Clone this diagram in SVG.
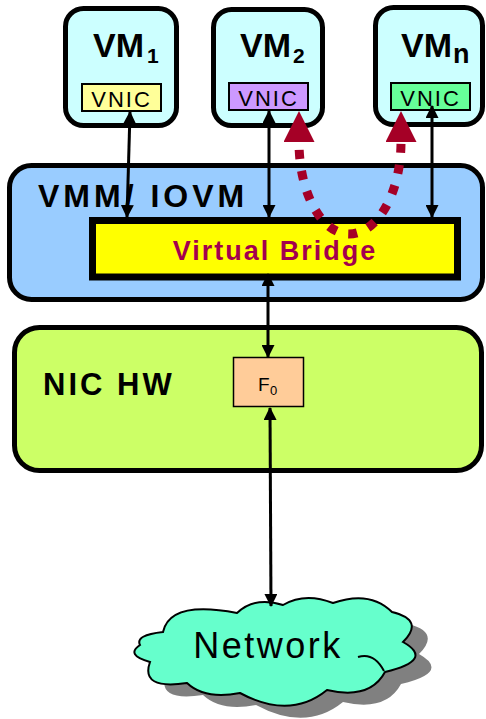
<svg xmlns="http://www.w3.org/2000/svg" width="486" height="719" viewBox="0 0 486 719">
<style>
.vm{fill:#CCFFFF;stroke:#000;stroke-width:5}
.vnic{stroke:#000;stroke-width:2}
.t{font-family:"Liberation Sans",Arial,sans-serif;fill:#000}
.b{font-weight:bold}
.ln{stroke:#000;stroke-width:3;fill:none;marker-start:url(#ah);marker-end:url(#ah)}
.red{stroke:#A50026;stroke-width:9;fill:none;stroke-dasharray:9 12;stroke-dashoffset:13;marker-start:url(#rh);marker-end:url(#rh)}
</style>
<defs>
<marker id="ah" markerUnits="userSpaceOnUse" markerWidth="13" markerHeight="13" refX="12" refY="6.5" orient="auto-start-reverse" viewBox="0 0 13 13">
<path d="M0,0 L13,6.5 L0,13 z" fill="#000"/>
</marker>
<marker id="rh" markerUnits="userSpaceOnUse" markerWidth="32" markerHeight="32" refX="0" refY="15.5" orient="auto-start-reverse" viewBox="0 0 32 32">
<path d="M0,0 L31,15.5 L0,31 z" fill="#A50026"/>
</marker>
<path id="cloud" d="M163,632 Q170,600 237,613 Q255,596 283,605 Q305,592 333,603 Q370,590 392,612 Q425,620 403,642 Q435,660 385,672 Q370,700 327,690 Q290,720 240,693 Q205,700 187,683 Q140,690 150,662 Q125,655 140,645 Q135,635 163,632 Z"/>
</defs>

<g id="vmm">
<rect x="9.5" y="165.5" width="473" height="134" rx="22" fill="#99CCFF" stroke="#000" stroke-width="5"/>
<text class="t b" x="38" y="207" font-size="32" letter-spacing="4">VMM/ IOVM</text>
</g>

<g id="bridge">
<rect x="92.5" y="220.5" width="365" height="56.5" fill="#FFFF00" stroke="#000" stroke-width="7"/>
<text class="t b" x="275" y="260" font-size="27" letter-spacing="2" text-anchor="middle" style="fill:#A3004E">Virtual Bridge</text>
</g>

<g id="nichw">
<rect x="14.5" y="327.5" width="467" height="143" rx="25" fill="#CCFF66" stroke="#000" stroke-width="5"/>
<text class="t b" x="43" y="395" font-size="31" letter-spacing="3">NIC HW</text>
</g>

<g id="f0">
<rect x="233.5" y="357.5" width="70" height="49" fill="#FFCC99" stroke="#000" stroke-width="1.5"/>
<text class="t" x="258" y="391" font-size="19">F</text>
<text class="t" x="270" y="395" font-size="13">0</text>
</g>

<g id="vm1">
<rect class="vm" x="65.5" y="8.5" width="111" height="117" rx="18"/>
<text class="t b" x="93" y="57" font-size="34">VM</text>
<text class="t b" x="147" y="63" font-size="21">1</text>
<rect class="vnic" x="82" y="84" width="79" height="27" fill="#FFFF99"/>
<text class="t" x="121.5" y="107" font-size="22" letter-spacing="2" text-anchor="middle">VNIC</text>
</g>

<g id="vm2">
<rect class="vm" x="213.5" y="9.5" width="109" height="116" rx="18"/>
<text class="t b" x="240" y="57" font-size="34">VM</text>
<text class="t b" x="293" y="63" font-size="21">2</text>
<rect class="vnic" x="229" y="83" width="79" height="27" fill="#CC99FF"/>
<text class="t" x="268.5" y="106" font-size="22" letter-spacing="2" text-anchor="middle">VNIC</text>
</g>

<g id="vmn">
<rect class="vm" x="375.5" y="7.5" width="107" height="117" rx="18"/>
<text class="t b" x="401" y="57" font-size="34">VM</text>
<text class="t b" x="453" y="63" font-size="27">n</text>
<rect class="vnic" x="391" y="83" width="79" height="27" fill="#66FF99"/>
<text class="t" x="430.5" y="106" font-size="22" letter-spacing="2" text-anchor="middle">VNIC</text>
</g>

<g id="network">
<use href="#cloud" transform="translate(16,12)" fill="#808080"/>
<use href="#cloud" fill="#66FFCC" stroke="#000" stroke-width="2"/>
<path d="M358,657 Q374,652 384,671" fill="none" stroke="#000" stroke-width="2"/>
<text class="t" x="268" y="658" font-size="36" letter-spacing="2.5" text-anchor="middle">Network</text>
</g>

<g id="connectors">
<line class="ln" x1="130" y1="112" x2="127" y2="217"/>
<line class="ln" x1="269" y1="111" x2="269" y2="217"/>
<line class="ln" x1="432" y1="106" x2="432" y2="217"/>
<line class="ln" x1="268" y1="274" x2="268" y2="357"/>
<line class="ln" x1="270" y1="408" x2="271" y2="606"/>
<path class="red" d="M299,142 A50 92 0 0 0 349,234 A52 92 0 0 0 401,142"/>
</g>
</svg>
